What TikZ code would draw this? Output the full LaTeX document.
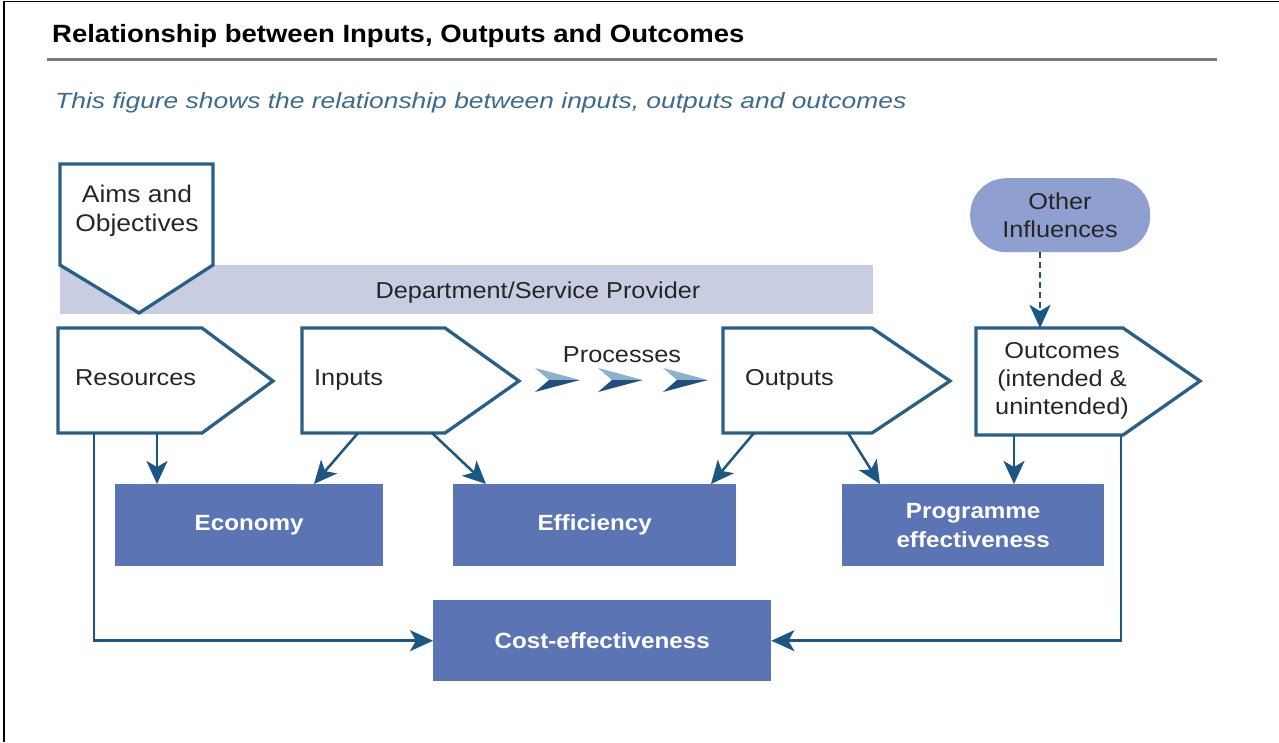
\documentclass[tikz,border=0pt]{standalone}
\usepackage{fontspec}
\setmainfont{Liberation Sans}[FakeStretch=1.1]
\newfontfamily\subfont{Liberation Sans}[FakeStretch=1.2]
\usetikzlibrary{arrows.meta,calc}
\definecolor{navy}{HTML}{2A6088}
\definecolor{arrowc}{HTML}{1C5783}
\definecolor{boxblue}{HTML}{5B74B3}
\definecolor{barlav}{HTML}{C9CDE2}
\definecolor{pillc}{HTML}{8F9FCF}
\definecolor{subblue}{HTML}{3C6B8E}
\definecolor{rulegray}{HTML}{7A7A7A}
\definecolor{chevlight}{HTML}{8DB0CC}
\definecolor{chevdark}{HTML}{1F4F7A}
\begin{document}
\begin{tikzpicture}[x=1pt,y=-1pt,
  pent/.style={draw=navy, line width=3.3pt, fill=white, line join=miter},
  dbox/.style={fill=boxblue, draw=none, text=white, font=\bfseries\fontsize{22}{29}\selectfont, align=center, inner sep=0pt, anchor=north west},
  arr/.style={draw=arrowc, line width=2.5pt, -{Stealth[length=23pt,width=21pt,inset=6pt]}},
  lbl/.style={font=\fontsize{23}{28}\selectfont, text=black!85, inner sep=0pt, align=center}]
\useasboundingbox (0,0) rectangle (1279,742);
\fill[white] (0,0) rectangle (1279,742);
\draw[black, line width=1.6pt] (4,742) -- (4,1.5) -- (1279,1.5);
% title
\node[anchor=base west, inner sep=0pt, font=\bfseries\fontsize{25}{30}\selectfont] (title) at (52,42) {Relationship between Inputs, Outputs and Outcomes};
\draw[rulegray, line width=3pt] (47,59) -- (1217,59);
\node[anchor=base west, inner sep=0pt, text=subblue, font=\subfont\itshape\fontsize{22}{26}\selectfont] (sub) at (55,108) {This figure shows the relationship between inputs, outputs and outcomes};
% department bar
\node[fill=barlav, draw=none, minimum width=813pt, minimum height=49pt, inner sep=0pt, anchor=north west] (dept) at (60,265) {};
\node[lbl, anchor=base] (depttext) at (538,298) {Department/Service Provider};
% aims
\path[pent] (60,164) -- (213,164) -- (213,265) -- (139,313) -- (60,265) -- cycle;
\node[lbl, font=\fontsize{24}{29}\selectfont] (aims) at (137,211) {Aims and\\Objectives};
% pentagons
\path[pent] (58,328) -- (202,328) -- (273,381) -- (202,433) -- (58,433) -- cycle;
\node[lbl, anchor=base west] (res) at (75,385) {Resources};
\path[pent] (302,328) -- (445,328) -- (519,381) -- (445,433) -- (302,433) -- cycle;
\node[lbl, anchor=base west] (inp) at (314,385) {Inputs};
\path[pent] (723,328) -- (872,328) -- (950,381) -- (872,433) -- (723,433) -- cycle;
\node[lbl, anchor=base west] (outp) at (745,385) {Outputs};
\path[pent] (976,328) -- (1123,328) -- (1200,381) -- (1123,435) -- (976,435) -- cycle;
\node[lbl] (outc) at (1062,381) {Outcomes\\(intended \&\\unintended)};
% processes
\node[lbl, anchor=base] (proc) at (622,362) {Processes};
\foreach \x in {535,598,663}{
  \fill[chevlight] (\x,368) -- (\x+45,380) -- (\x+14,380) -- cycle;
  \fill[chevdark] (\x+14,380) -- (\x+45,380) -- (\x,392) -- cycle;
}
% other influences
\node[fill=pillc, draw=none, rounded corners=36pt, minimum width=180pt, minimum height=74pt, inner sep=0pt, anchor=north west] (oth) at (970,178) {};
\node[lbl] (othtext) at (1060,215) {Other\\Influences};
% result boxes
\node[dbox, minimum width=268pt, minimum height=82pt] (econ) at (115,484) {Economy};
\node[dbox, minimum width=283pt, minimum height=82pt] (effi) at (453,484) {Efficiency};
\node[dbox, minimum width=262pt, minimum height=82pt] (prog) at (842,484) {Programme\\effectiveness};
\node[dbox, minimum width=338pt, minimum height=81pt] (cost) at (433,600) {Cost-effectiveness};
% connector coordinates
\coordinate (resA) at (94,433);
\coordinate (resB) at (157,433);
\coordinate (inA) at (358,433);
\coordinate (inB) at (432,433);
\coordinate (outA) at (754,433);
\coordinate (outB) at (848,433);
\coordinate (ocA) at (1014,435);
\coordinate (ocB) at (1121,435);
\coordinate (ocTop) at (1040,328);
\coordinate (econIn) at (314,484);
\coordinate (effiIn) at (486,484);
\coordinate (effiOut) at (711,484);
\coordinate (progOut) at (880,484);
% connectors
\draw[arr] (resB) -- (econ.north -| resB);
\draw[arr] (inA) -- (econIn);
\draw[arr] (inB) -- (effiIn);
\draw[arr] (outA) -- (effiOut);
\draw[arr] (outB) -- (progOut);
\draw[arr] (ocA) -- (prog.north -| ocA);
\draw[arr] (resA) |- (cost.west);
\draw[arr] (ocB) |- (cost.east);
\draw[arr, dashed, dash pattern=on 6pt off 4pt] (oth.south -| ocTop) -- (ocTop);
\end{tikzpicture}
\end{document}
